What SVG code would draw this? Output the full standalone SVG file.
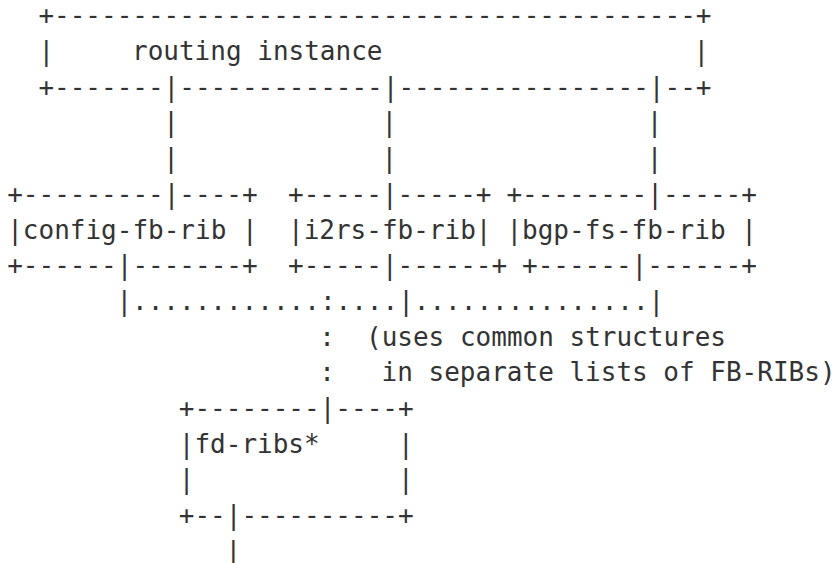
<svg xmlns="http://www.w3.org/2000/svg" width="834" height="563" viewBox="0 0 834 563">
<style>
text { font-family: "DejaVu Sans Mono", "Liberation Mono", monospace; font-size: 26px; fill: #333333; white-space: pre; }
</style>
<rect width="834" height="563" fill="#ffffff"/>
<g id="routing-instance">
<text x="38.4" y="24.3">+-----------------------------------------+</text>
<text x="38.4" y="60">|</text>
<text x="132" y="60">routing instance</text>
<text x="693.6" y="60">|</text>
<text x="38.4" y="95.7">+-------|-------------|----------------|--+</text>
</g>
<g id="config-fb-rib">
<text x="7.2" y="202.8">+---------|----+</text>
<text x="7.2" y="238.5">|config-fb-rib |</text>
<text x="7.2" y="274.2">+------|-------+</text>
</g>
<g id="i2rs-fb-rib">
<text x="288" y="202.8">+-----|-----+</text>
<text x="288" y="238.5">|i2rs-fb-rib|</text>
<text x="288" y="274.2">+-----|------+</text>
</g>
<g id="bgp-fs-fb-rib">
<text x="506.4" y="202.8">+--------|-----+</text>
<text x="506.4" y="238.5">|bgp-fs-fb-rib |</text>
<text x="522" y="274.2">+------|------+</text>
</g>
<g id="fd-ribs">
<text x="178.8" y="417">+--------|----+</text>
<text x="178.8" y="452.7">|fd-ribs*     |</text>
<text x="178.8" y="488.4">|             |</text>
<text x="178.8" y="524.1">+--|----------+</text>
</g>
<g id="connectors">
<text x="163.2" y="131.4">|</text>
<text x="381.6" y="131.4">|</text>
<text x="646.8" y="131.4">|</text>
<text x="163.2" y="167.1">|</text>
<text x="381.6" y="167.1">|</text>
<text x="646.8" y="167.1">|</text>
<text x="116.4" y="309.9">|............:....|...............|</text>
<text x="319.2" y="345.6">:</text>
<text x="319.2" y="381.3">:</text>
<text x="225.6" y="559.8">|</text>
</g>
<g id="annotation">
<text x="366" y="345.6">(uses common structures</text>
<text x="381.6" y="381.3">in separate lists of FB-RIBs)</text>
</g>
</svg>
